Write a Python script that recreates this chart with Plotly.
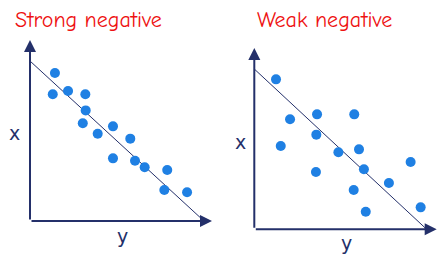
import plotly.graph_objects as go

# Strong negative panel (data units 0-10)
strong_x = [1.37, 1.25, 2.09, 3.04, 3.06, 2.90, 3.72, 4.56, 5.51, 4.56, 5.77, 6.30, 7.54, 7.38, 8.63]
strong_y = [8.18, 7.00, 7.18, 7.00, 6.11, 5.40, 4.82, 5.23, 4.55, 3.46, 3.33, 2.97, 2.82, 1.71, 1.59]
strong_line_x = [0.0, 9.56]
strong_line_y = [8.84, 0.0]

# Weak negative panel
weak_x = [1.19, 1.96, 1.45, 3.44, 3.40, 3.38, 4.61, 5.48, 5.74, 6.01, 5.45, 6.11, 7.38, 8.57, 9.12]
weak_y = [8.27, 6.07, 4.59, 6.34, 5.22, 3.16, 4.25, 6.34, 4.41, 3.31, 2.17, 0.97, 2.55, 3.71, 1.21]
weak_line_x = [0.0, 9.45]
weak_line_y = [8.84, 0.0]

titles = ["Strong negative", "Weak negative"]
axis_labels = ["x", "y"]

NAVY = "#24306a"
BLUE = "#1f80e3"
RED = "#ee1111"

fig = go.Figure()
for xs, ys, lx, ly, xa, ya in [
    (strong_x, strong_y, strong_line_x, strong_line_y, "x", "y"),
    (weak_x, weak_y, weak_line_x, weak_line_y, "x2", "y2"),
]:
    fig.add_trace(go.Scatter(x=lx, y=ly, mode="lines", xaxis=xa, yaxis=ya,
                             line=dict(color=NAVY, width=1), showlegend=False, hoverinfo="skip"))
    fig.add_trace(go.Scatter(x=xs, y=ys, mode="markers", xaxis=xa, yaxis=ya, cliponaxis=False,
                             marker=dict(color=BLUE, size=10, line=dict(width=0)), showlegend=False))

ax_common = dict(range=[0, 10], showgrid=False, zeroline=False, showticklabels=False,
                 ticks="", showline=False, fixedrange=True)
fig.update_layout(
    width=440, height=259,
    margin=dict(l=0, r=0, t=0, b=0),
    paper_bgcolor="white", plot_bgcolor="white",
    xaxis=dict(domain=[30/440, 212/440], anchor="y", **ax_common),
    yaxis=dict(domain=[(259-221)/259, (259-40)/259], anchor="x", **ax_common),
    xaxis2=dict(domain=[254.3/440, 436.7/440], anchor="y2", **ax_common),
    yaxis2=dict(domain=[(259-229.3)/259, (259-48)/259], anchor="x2", **ax_common),
)

anns = []
for xr, yr in [("x", "y"), ("x2", "y2")]:
    # vertical axis arrow
    anns.append(dict(x=0, y=10, ax=0, ay=0, xref=xr, yref=yr, axref=xr, ayref=yr,
                     showarrow=True, arrowhead=2, arrowsize=1.2, arrowwidth=2, arrowcolor=NAVY, text=""))
    # horizontal axis arrow
    anns.append(dict(x=10, y=0, ax=0, ay=0, xref=xr, yref=yr, axref=xr, ayref=yr,
                     showarrow=True, arrowhead=2, arrowsize=1.2, arrowwidth=2, arrowcolor=NAVY, text=""))

title_font = dict(family="Comic Sans MS, Comic Neue, Lato, sans-serif", size=22, color=RED)
anns.append(dict(text=titles[0], x=88/440, y=1-20/259, xref="paper", yref="paper",
                 showarrow=False, font=title_font, xanchor="center", yanchor="middle"))
anns.append(dict(text=titles[1], x=324/440, y=1-20/259, xref="paper", yref="paper",
                 showarrow=False, font=title_font, xanchor="center", yanchor="middle"))

lab_font = dict(family="DejaVu Sans, Verdana, sans-serif", size=19, color=NAVY)
for (px, py), t in [((15, 133), axis_labels[0]), ((122, 236), axis_labels[1]),
                    ((240.7, 142), axis_labels[0]), ((346.7, 243), axis_labels[1])]:
    anns.append(dict(text=t, x=px/440, y=1-py/259, xref="paper", yref="paper",
                     showarrow=False, font=lab_font, xanchor="center", yanchor="middle"))

fig.update_layout(annotations=anns)
fig.write_html("out.html")
